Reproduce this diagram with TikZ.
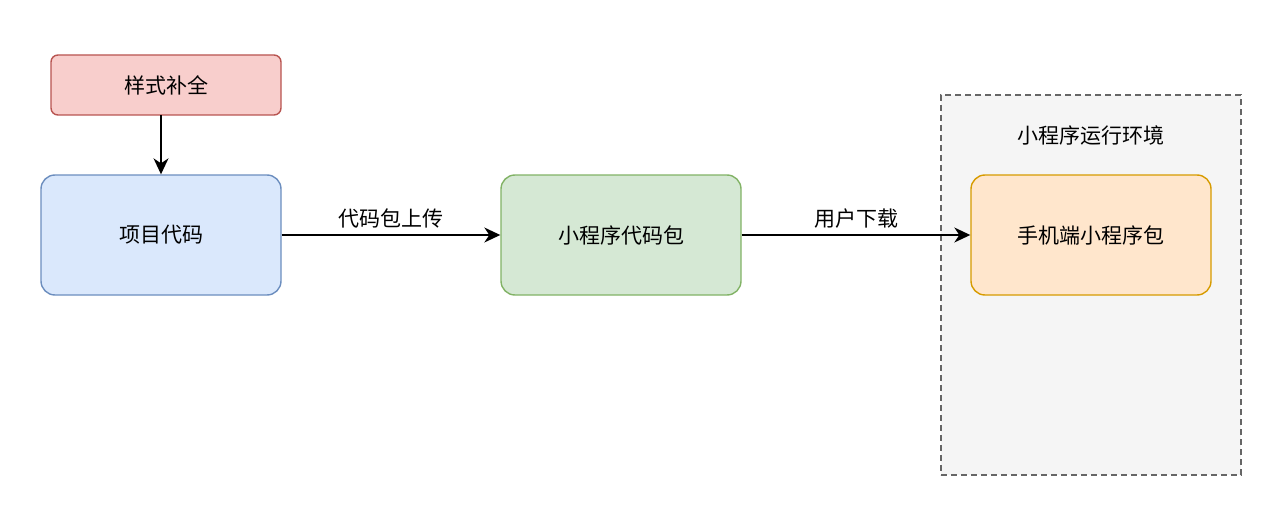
\documentclass[tikz,border=0pt]{standalone}
\usepackage{fontspec}
\setmainfont{Noto Sans CJK SC}
\usetikzlibrary{arrows.meta}
\definecolor{rf}{HTML}{F8CECC}\definecolor{rs}{HTML}{B85450}
\definecolor{bf}{HTML}{DAE8FC}\definecolor{bs}{HTML}{6C8EBF}
\definecolor{gf}{HTML}{D5E8D4}\definecolor{gs}{HTML}{82B366}
\definecolor{of}{HTML}{FFE6CC}\definecolor{os}{HTML}{D79B00}
\definecolor{cf}{HTML}{F5F5F5}\definecolor{cs}{HTML}{666666}
\begin{document}
\begin{tikzpicture}[x=1pt,y=-1pt,
  box/.style={draw,line width=1.4pt,minimum width=240pt,minimum height=120pt,rounded corners=14pt,font=\fontsize{21}{24}\selectfont},
  arr/.style={-{Stealth[length=16pt,width=15pt,inset=5pt]},line width=1.5pt},
  lbl/.style={font=\fontsize{21}{24}\selectfont}]
\useasboundingbox[fill=white] (0,0) rectangle (1282,516);
\node[draw=cs,fill=cf,dash pattern=on 6pt off 4pt,line width=1.4pt,minimum width=300pt,minimum height=380pt,inner sep=0pt] (env) at (1091,285) {};
\node[lbl] (envl) at (1091,135) {小程序运行环境};
\node[box,fill=rf,draw=rs,minimum width=230pt,minimum height=60pt,rounded corners=7pt,inner sep=0pt] (s) at (166,85) {样式补全};
\node[box,fill=bf,draw=bs,inner sep=0pt] (p) at (161,235) {项目代码};
\node[box,fill=gf,draw=gs,inner sep=0pt] (m) at (621,235) {小程序代码包};
\node[box,fill=of,draw=os,inner sep=0pt] (h) at (1091,235) {手机端小程序包};
\coordinate (st) at (161,115);
\draw[arr] (st) -- (p.north -| st);
\draw[arr] (p) -- node[lbl,above=3pt]{代码包上传} (m);
\draw[arr] (m) -- node[lbl,above=3pt]{用户下载} (h);
\end{tikzpicture}
\end{document}
